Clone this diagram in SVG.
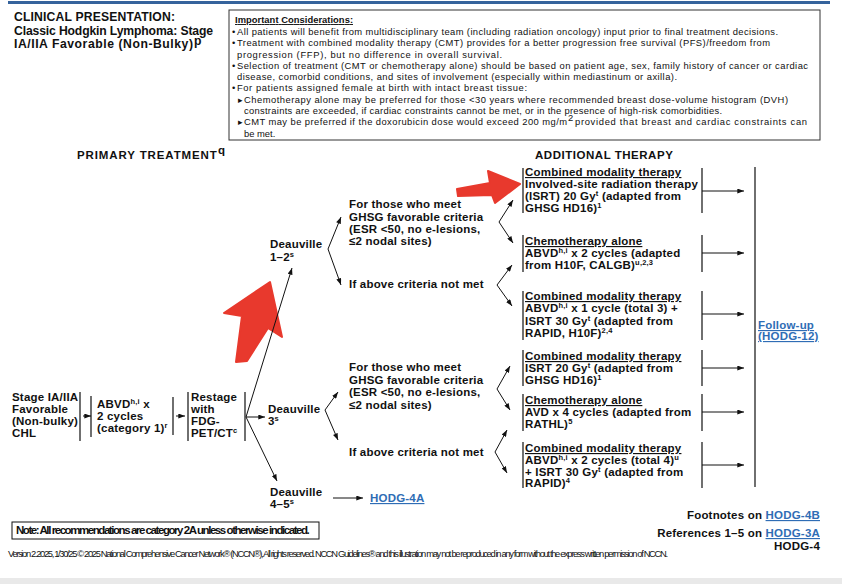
<svg xmlns="http://www.w3.org/2000/svg" width="842" height="584" viewBox="0 0 842 584">
<style>
.t{font-family:"Liberation Sans",Arial,Helvetica,sans-serif;font-weight:bold;font-size:11.5px;letter-spacing:0.2px;fill:#111}
.h{font-family:"Liberation Sans",Arial,Helvetica,sans-serif;font-weight:bold;font-size:12.2px;fill:#111}
.n{font-family:"Liberation Sans",Arial,Helvetica,sans-serif;font-size:9.4px;fill:#111}
.s{font-size:7.5px}
.u{text-decoration:underline}
.lk{fill:#2f6db5;text-decoration:underline}
.bar{stroke:#222;stroke-width:1.3;fill:none}
.c line{stroke:#111;stroke-width:1;marker-end:url(#ah)}
.red{fill:#e8392d;stroke:#e8392d;stroke-width:2;stroke-linejoin:round}
</style>
<defs>
<marker id="ah" viewBox="0 0 8 6" refX="8" refY="3" markerWidth="7" markerHeight="5" orient="auto" markerUnits="userSpaceOnUse"><path d="M0,0 L8,3 L0,6 z" fill="#111"/></marker>
</defs>
<rect x="0" y="0" width="842" height="584" fill="#fff"/>
<rect x="8" y="1" width="822" height="3" fill="#35639c"/>
<rect x="0" y="578" width="842" height="6" fill="#e9e9e9"/>

<g id="title">
<text class="h" x="14" y="21" textLength="161">CLINICAL PRESENTATION:</text>
<text class="h" x="14" y="35" textLength="199">Classic Hodgkin Lymphoma: Stage</text>
<text class="h" x="14" y="48" textLength="179">IA/IIA Favorable (Non-Bulky)</text>
<text class="h" x="194" y="45" font-size="8">p</text>
</g>

<g id="considerations">
<rect x="229" y="10" width="591" height="130" fill="none" stroke="#333" stroke-width="1"/>
<text class="n u" x="235" y="23" font-weight="bold" textLength="118">Important Considerations:</text>
<text class="n" x="232" y="35">•</text>
<text class="n" x="237" y="35" textLength="541">All patients will benefit from multidisciplinary team (including radiation oncology) input prior to final treatment decisions.</text>
<text class="n" x="232" y="46">•</text>
<text class="n" x="237" y="46" textLength="533">Treatment with combined modality therapy (CMT) provides for a better progression free survival (PFS)/freedom from</text>
<text class="n" x="237" y="57.5" textLength="265">progression (FFP), but no difference in overall survival.</text>
<text class="n" x="232" y="69">•</text>
<text class="n" x="237" y="69" textLength="571">Selection of treatment (CMT or chemotherapy alone) should be based on patient age, sex, family history of cancer or cardiac</text>
<text class="n" x="237" y="80" textLength="440">disease, comorbid conditions, and sites of involvement (especially within mediastinum or axilla).</text>
<text class="n" x="232" y="91">•</text>
<text class="n" x="237" y="91" textLength="290">For patients assigned female at birth with intact breast tissue:</text>
<text class="n" x="238" y="102.5" font-size="7">▸</text>
<text class="n" x="244" y="102.5" textLength="544">Chemotherapy alone may be preferred for those &lt;30 years where recommended breast dose-volume histogram (DVH)</text>
<text class="n" x="244" y="113.5" textLength="478">constraints are exceeded, if cardiac constraints cannot be met, or in the presence of high-risk comorbidities.</text>
<text class="n" x="238" y="125" font-size="7">▸</text>
<text class="n" x="244" y="125" textLength="323">CMT may be preferred if the doxorubicin dose would exceed 200 mg/m</text>
<text class="n" x="568" y="121" font-size="6">2</text>
<text class="n" x="575" y="125" textLength="232">provided that breast and cardiac constraints can</text>
<text class="n" x="244" y="136.5">be met.</text>
</g>

<g id="headers">
<text class="t" x="77" y="159" font-size="10.5" textLength="140">PRIMARY TREATMENT</text>
<text class="t" x="218" y="154" font-size="7.5">q</text>
<text class="t" x="535" y="159" font-size="10.5" textLength="138">ADDITIONAL THERAPY</text>
</g>

<g id="annotations">
<polygon class="red" points="270,282 282,337 268,328 247,361 236,362 242,316 224,313"/>
<polygon class="red" points="457,189 490,183 488,171 520,184 495,203 492,195 458,196"/>
</g>

<g id="stage">
<text class="t" x="12" y="401">Stage IA/IIA</text>
<text class="t" x="12" y="413">Favorable</text>
<text class="t" x="12" y="425">(Non-bulky)</text>
<text class="t" x="12" y="437">CHL</text>
<line class="bar" x1="80" y1="392" x2="80" y2="441"/>
</g>

<g id="abvd">
<line class="bar" x1="91" y1="396" x2="91" y2="437"/>
<text class="t" x="97" y="408">ABVD<tspan class="s" dy="-4">h,i</tspan><tspan dy="4"> x</tspan></text>
<text class="t" x="97" y="420">2 cycles</text>
<text class="t" x="97" y="432">(category 1)<tspan class="s" dy="-4">r</tspan></text>
<line class="bar" x1="173" y1="397" x2="173" y2="435"/>
</g>

<g id="restage">
<line class="bar" x1="188" y1="392" x2="188" y2="441"/>
<text class="t" x="191" y="401">Restage</text>
<text class="t" x="191" y="413">with</text>
<text class="t" x="191" y="425">FDG-</text>
<text class="t" x="191" y="437">PET/CT<tspan class="s" dy="-4">c</tspan></text>
<line class="bar" x1="245" y1="392" x2="245" y2="441"/>
</g>

<g id="deauville12">
<text class="t" x="270" y="248">Deauville</text>
<text class="t" x="270" y="261">1–2<tspan class="s" dy="-4">s</tspan></text>
</g>
<g id="deauville3">
<text class="t" x="268" y="413">Deauville</text>
<text class="t" x="268" y="425">3<tspan class="s" dy="-4">s</tspan></text>
</g>
<g id="deauville45">
<text class="t" x="270" y="496">Deauville</text>
<text class="t" x="270" y="508">4–5<tspan class="s" dy="-4">s</tspan></text>
</g>
<g id="hodg4a">
<text class="t lk" x="370" y="502">HODG-4A</text>
</g>

<g id="crit1">
<text class="t" x="349" y="208">For those who meet</text>
<text class="t" x="349" y="221">GHSG favorable criteria</text>
<text class="t" x="349" y="233">(ESR &lt;50, no e-lesions,</text>
<text class="t" x="349" y="245">≤2 nodal sites)</text>
</g>
<g id="notmet1">
<text class="t" x="349" y="288">If above criteria not met</text>
</g>
<g id="crit3">
<text class="t" x="349" y="371">For those who meet</text>
<text class="t" x="349" y="384">GHSG favorable criteria</text>
<text class="t" x="349" y="396">(ESR &lt;50, no e-lesions,</text>
<text class="t" x="349" y="409">≤2 nodal sites)</text>
</g>
<g id="notmet3">
<text class="t" x="349" y="456">If above criteria not met</text>
</g>

<g id="box1">
<line class="bar" x1="523" y1="168" x2="523" y2="213"/>
<text class="t u" x="525" y="176">Combined modality therapy</text>
<text class="t" x="525" y="188">Involved-site radiation therapy</text>
<text class="t" x="525" y="200">(ISRT) 20 Gy<tspan class="s" dy="-4">t</tspan><tspan dy="4"> (adapted from</tspan></text>
<text class="t" x="525" y="211.5">GHSG HD16)<tspan class="s" dy="-4">1</tspan></text>
<line class="bar" x1="702" y1="168" x2="702" y2="213"/>
</g>
<g id="box2">
<line class="bar" x1="523" y1="235" x2="523" y2="272"/>
<text class="t u" x="525" y="245">Chemotherapy alone</text>
<text class="t" x="525" y="257">ABVD<tspan class="s" dy="-4">h,i</tspan><tspan dy="4"> x 2 cycles (adapted</tspan></text>
<text class="t" x="525" y="269">from H10F, CALGB)<tspan class="s" dy="-4">u,2,3</tspan></text>
<line class="bar" x1="702" y1="235" x2="702" y2="272"/>
</g>
<g id="box3">
<line class="bar" x1="523" y1="291" x2="523" y2="340"/>
<text class="t u" x="525" y="300">Combined modality therapy</text>
<text class="t" x="525" y="312">ABVD<tspan class="s" dy="-4">h,i</tspan><tspan dy="4"> x 1 cycle (total 3) +</tspan></text>
<text class="t" x="525" y="325">ISRT 30 Gy<tspan class="s" dy="-4">t</tspan><tspan dy="4"> (adapted from</tspan></text>
<text class="t" x="525" y="337">RAPID, H10F)<tspan class="s" dy="-4">2,4</tspan></text>
<line class="bar" x1="702" y1="291" x2="702" y2="340"/>
</g>
<g id="box4">
<line class="bar" x1="523" y1="350" x2="523" y2="386"/>
<text class="t u" x="525" y="360">Combined modality therapy</text>
<text class="t" x="525" y="371.5">ISRT 20 Gy<tspan class="s" dy="-3.5">t</tspan><tspan dy="3.5"> (adapted from</tspan></text>
<text class="t" x="525" y="383.5">GHSG HD16)<tspan class="s" dy="-3.5">1</tspan></text>
<line class="bar" x1="702" y1="350" x2="702" y2="386"/>
</g>
<g id="box5">
<line class="bar" x1="523" y1="394" x2="523" y2="431"/>
<text class="t u" x="525" y="404">Chemotherapy alone</text>
<text class="t" x="525" y="416">AVD x 4 cycles (adapted from</text>
<text class="t" x="525" y="428">RATHL)<tspan class="s" dy="-4">5</tspan></text>
<line class="bar" x1="702" y1="394" x2="702" y2="431"/>
</g>
<g id="box6">
<line class="bar" x1="523" y1="442" x2="523" y2="488"/>
<text class="t u" x="525" y="452">Combined modality therapy</text>
<text class="t" x="525" y="463.5">ABVD<tspan class="s" dy="-3.5">h,i</tspan><tspan dy="3.5"> x 2 cycles (total 4)</tspan><tspan class="s" dy="-3.5">u</tspan></text>
<text class="t" x="525" y="475.5">+ ISRT 30 Gy<tspan class="s" dy="-3.5">t</tspan><tspan dy="3.5"> (adapted from</tspan></text>
<text class="t" x="525" y="487">RAPID)<tspan class="s" dy="-4">4</tspan></text>
<line class="bar" x1="702" y1="442" x2="702" y2="488"/>
</g>

<g id="followup">
<line class="bar" x1="755" y1="167" x2="755" y2="487"/>
<text class="t lk" x="758" y="329">Follow-up</text>
<text class="t lk" x="758" y="340">(HODG-12)</text>
</g>

<g id="connectors" class="c">
<line x1="83" y1="416" x2="91" y2="416"/>
<line x1="176" y1="416" x2="185" y2="416"/>
<line x1="246" y1="417" x2="292" y2="268"/>
<line x1="246" y1="417" x2="265" y2="417"/>
<line x1="246" y1="417" x2="277" y2="481"/>
<line x1="333" y1="498" x2="363" y2="498"/>
<line x1="328" y1="249" x2="341" y2="217"/>
<line x1="328" y1="249" x2="341" y2="285"/>
<line x1="325" y1="410" x2="338" y2="392"/>
<line x1="325" y1="410" x2="338" y2="440"/>
<line x1="499" y1="222" x2="513" y2="200"/>
<line x1="499" y1="222" x2="513" y2="243"/>
<line x1="497" y1="285" x2="512" y2="265"/>
<line x1="497" y1="285" x2="512" y2="306"/>
<line x1="497" y1="389" x2="510" y2="366"/>
<line x1="497" y1="389" x2="510" y2="410"/>
<line x1="495" y1="452" x2="507" y2="430"/>
<line x1="495" y1="452" x2="507" y2="473"/>
<line x1="702" y1="191" x2="744" y2="191"/>
<line x1="702" y1="253" x2="744" y2="253"/>
<line x1="702" y1="314" x2="744" y2="314"/>
<line x1="702" y1="368" x2="744" y2="368"/>
<line x1="702" y1="412" x2="744" y2="412"/>
<line x1="702" y1="465" x2="744" y2="465"/>
</g>

<g id="footer">
<rect x="12" y="522" width="307" height="17" fill="none" stroke="#111" stroke-width="1"/>
<text class="t" x="16" y="534" font-size="8" letter-spacing="0" textLength="294">Note: All recommendations are category 2A unless otherwise indicated.</text>
<text class="n" x="8" y="557" font-size="5" textLength="660">Version 2.2025, 1/30/25 © 2025 National Comprehensive Cancer Network® (NCCN®), All rights reserved. NCCN Guidelines® and this illustration may not be reproduced in any form without the express written permission of NCCN.</text>
<text class="t" x="820" y="519" text-anchor="end">Footnotes on <tspan class="lk">HODG-4B</tspan></text>
<text class="t" x="820" y="537" text-anchor="end">References 1–5 on <tspan class="lk">HODG-3A</tspan></text>
<text class="t" x="820" y="550" text-anchor="end">HODG-4</text>
</g>
</svg>
